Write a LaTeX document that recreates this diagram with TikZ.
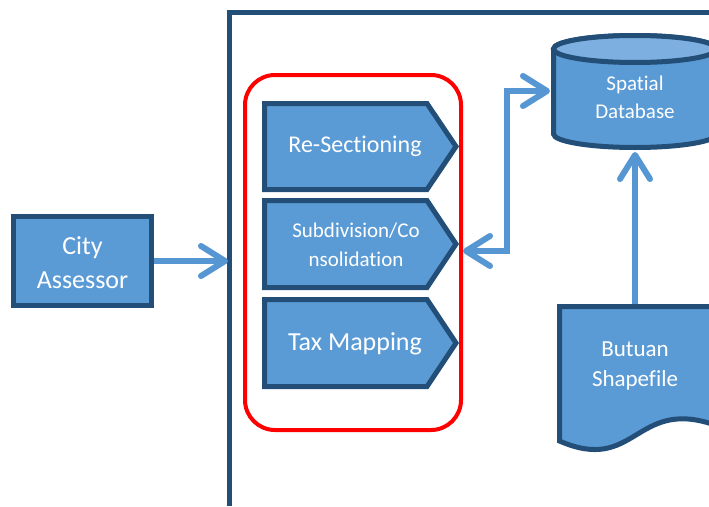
\documentclass[tikz,border=0pt]{standalone}
\usepackage{fontspec}
\setmainfont[Ligatures={NoCommon,NoRare}]{Carlito}
\usetikzlibrary{arrows.meta}
\definecolor{boxfill}{HTML}{5B9BD5}
\definecolor{boxline}{HTML}{224E78}
\definecolor{arrblue}{HTML}{5596D3}
\definecolor{capfill}{HTML}{7DB0E0}
\begin{document}
\begin{tikzpicture}[x=1pt,y=-1pt,
  shapebox/.style={fill=boxfill,draw=boxline,line width=5pt},
  frameline/.style={draw=boxline,line width=5pt},
  groupbox/.style={draw=red,line width=4pt,rounded corners=30pt},
  arr/.style={draw=arrblue,line width=6pt},
  tipend/.style={-{Straight Barb[length=24pt,width=30pt,round]}},
  lbl/.style={text=white,align=center,inner sep=0pt}]
\useasboundingbox (0,0) rectangle (709,506);
% frame
\draw[frameline] (229.5,506) -- (229.5,12.5) -- (712,12.5);
% City assessor
\draw[shapebox] (13.5,216.5) rectangle (151.5,305.5);
\node[lbl,font=\fontsize{26}{34}\selectfont] (city) at (82.5,263) {City\\Assessor};
\coordinate (cityR) at (154,261);
\coordinate (frameL) at (228,261);
% red group
\draw[groupbox] (245,75) rectangle (461,430);
% chevrons
\draw[shapebox,miter limit=10] (264.5,103.5) -- (427,103.5) -- (456,146.5) -- (427,189.5) -- (264.5,189.5) -- cycle;
\draw[shapebox,miter limit=10] (264.5,200.5) -- (427,200.5) -- (456,244) -- (427,287.5) -- (264.5,287.5) -- cycle;
\draw[shapebox,miter limit=10] (264.5,299.5) -- (427,299.5) -- (456,343) -- (427,386.5) -- (264.5,386.5) -- cycle;
\node[lbl,font=\fontsize{24}{28}\selectfont] (resec) at (355,146) {Re-Sectioning};
\node[lbl,font=\fontsize{21}{29}\selectfont] (subd) at (356,245) {Subdivision/Co\\nsolidation};
\node[lbl,font=\fontsize{26}{30}\selectfont] (tax) at (355,344) {Tax Mapping};
\coordinate (subR) at (463,251);
% cylinder
\draw[shapebox] (553.5,49) -- (553.5,134) arc[start angle=180,end angle=0,x radius=81.5,y radius=13.5] -- (716.5,49) arc[start angle=0,end angle=-180,x radius=81.5,y radius=13.5] -- cycle;
\draw[shapebox,fill=capfill] (635,49) ellipse[x radius=81.5,y radius=13.5];
\node[lbl,font=\fontsize{21}{28}\selectfont] (db) at (635,97) {Spatial\\Database};
\coordinate (dbL) at (550,91);
\coordinate (dbB) at (635,152);
% document
\draw[shapebox] (559.5,306.5) -- (712,306.5) -- (712,424) .. controls (635,399) and (635,474) .. (559.5,441) -- cycle;
\node[lbl,font=\fontsize{23}{30}\selectfont] (shp) at (635,366) {Butuan\\Shapefile};
\coordinate (shpT) at (635,304);
% arrows
\draw[arr,tipend] (cityR) -- (frameL);
\draw[arr,{Straight Barb[length=24pt,width=30pt,round]}-{Straight Barb[length=24pt,width=30pt,round]}] (subR) -- (507,251) |- (dbL);
\draw[arr,tipend] (shpT) -- (dbB);
\end{tikzpicture}
\end{document}
